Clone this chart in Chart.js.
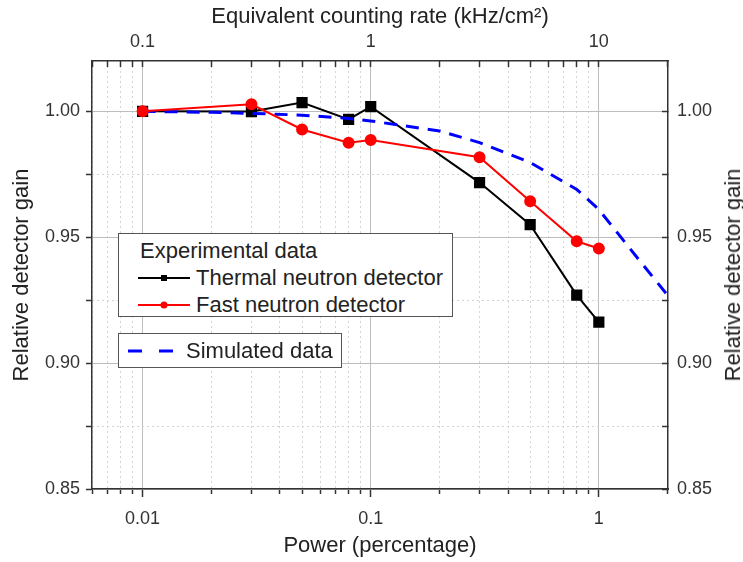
<!DOCTYPE html>
<html>
<head>
<meta charset="utf-8">
<script src="https://cdn.jsdelivr.net/npm/chart.js@4.4.1/dist/chart.umd.min.js"></script>
<style>
    body { margin: 0; background: #fff; }
    #wrap { position: relative; width: 743px; height: 562px; font-family: "Liberation Sans", Arial, sans-serif; color: #222; }
    .legend-box { position: absolute; background: #fff; border: 1px solid #555; box-sizing: border-box; }
    .row { position: absolute; font-size: 22px; line-height: 22px; white-space: nowrap; }
    .row svg { position: absolute; }
    #rightTitle { position: absolute; left: 733px; top: 275px; font-size: 22px; line-height: 22px; white-space: nowrap;
        transform: translate(-50%, -50%) rotate(-90deg); }
</style>
</head>
<body>
<div id="wrap">
    <canvas id="gainChart"></canvas>

    <div class="legend-box" style="left:118px; top:233px; width:335px; height:84px;">
        <div class="row" style="left:21px; top:6px;">Experimental data</div>
        <div class="row" style="left:19px; top:33px;">
            <svg width="54" height="22" style="left:0; top:0;">
                <line x1="0" y1="11" x2="52" y2="11" stroke="#000" stroke-width="2"/>
                <rect x="23" y="8" width="6" height="6" fill="#000"/>
            </svg>
            <span style="position:absolute; left:58px; top:0;">Thermal neutron detector</span>
        </div>
        <div class="row" style="left:19px; top:60px;">
            <svg width="54" height="22" style="left:0; top:0;">
                <line x1="0" y1="11" x2="52" y2="11" stroke="#ff0000" stroke-width="2"/>
                <circle cx="26" cy="11" r="3.5" fill="#ff0000"/>
            </svg>
            <span style="position:absolute; left:58px; top:0;">Fast neutron detector</span>
        </div>
    </div>

    <div class="legend-box" style="left:118px; top:333px; width:224px; height:35px;">
        <div class="row" style="left:9px; top:6px;">
            <svg width="50" height="22" style="left:0; top:0;">
                <line x1="0" y1="11" x2="46" y2="11" stroke="#0000ff" stroke-width="3" stroke-dasharray="14,17"/>
            </svg>
            <span style="position:absolute; left:58px; top:0;">Simulated data</span>
        </div>
    </div>

    <div id="rightTitle">Relative detector gain</div>
</div>

<script>
// axis ranges
const powerMin = 0.006, powerMax = 2.01;
const rateMin = 0.06, rateMax = 20.1;
const gainMin = 0.85, gainMax = 1.02;

// tick positions and labels
const powerMajor = [0.01, 0.1, 1];
const powerLabels = ['0.01', '0.1', '1'];
const powerMinor = [0.006, 0.007, 0.008, 0.009,
    0.02, 0.03, 0.04, 0.05, 0.06, 0.07, 0.08, 0.09,
    0.2, 0.3, 0.4, 0.5, 0.6, 0.7, 0.8, 0.9, 2];
const rateMajor = [0.1, 1, 10];
const rateLabels = ['0.1', '1', '10'];
const rateMinor = [0.06, 0.07, 0.08, 0.09,
    0.2, 0.3, 0.4, 0.5, 0.6, 0.7, 0.8, 0.9,
    2, 3, 4, 5, 6, 7, 8, 9, 20];
const gainMajor = [0.85, 0.90, 0.95, 1.00];
const gainMinor = [0.875, 0.925, 0.975];

// series
const thermalPower = [0.01, 0.03, 0.05, 0.08, 0.1, 0.3, 0.5, 0.8, 1];
const thermalGain = [1.000, 0.9999, 1.0035, 0.9968, 1.0019, 0.9717, 0.955, 0.927, 0.9163];
const fastPower = [0.01, 0.03, 0.05, 0.08, 0.1, 0.3, 0.5, 0.8, 1];
const fastGain = [1.000, 1.0028, 0.9928, 0.9875, 0.9886, 0.9818, 0.9643, 0.9484, 0.9455];
const simPower = [0.01, 0.02, 0.03, 0.05, 0.08, 0.1, 0.2, 0.3, 0.5, 0.8, 1, 1.5, 2];
const simGain = [1.000, 0.9996, 0.9992, 0.9985, 0.9972, 0.9962, 0.9922, 0.9876, 0.9797, 0.969, 0.961, 0.941, 0.927];

const toPoints = (xs, ys) => xs.map((x, i) => ({ x: x, y: ys[i] }));

const fontFamily = '"Liberation Sans", Arial, sans-serif';
const tickFont = { family: fontFamily, size: 18 };
const titleFont = { family: fontFamily, size: 22, lineHeight: 1 };
const axisColor = '#333';
const majorGrid = '#bdbdbd';
const minorGrid = '#d4d4d4';

const setTicks = (values) => (scale) => { scale.ticks = values.map(v => ({ value: v })); };
const fixWidth = (w) => (scale) => { scale.width = w; };
const fixHeight = (h) => (scale) => { scale.height = h; };
const labelFrom = (values, labels) => (value) => {
    const i = values.indexOf(value);
    return i >= 0 ? labels[i] : '';
};

function initChart() {
    const ctx = document.getElementById('gainChart').getContext('2d');

    const data = {
        datasets: [{
            label: 'Fast neutron detector',
            data: toPoints(fastPower, fastGain),
            borderColor: '#ff0000',
            backgroundColor: '#ff0000',
            borderWidth: 2,
            pointStyle: 'circle',
            pointRadius: 5,
            order: 0
        }, {
            label: 'Simulated data',
            data: toPoints(simPower, simGain),
            borderColor: '#0000ff',
            borderWidth: 3,
            borderDash: [13, 9],
            pointRadius: 0,
            order: 1
        }, {
            label: 'Thermal neutron detector',
            data: toPoints(thermalPower, thermalGain),
            borderColor: '#000',
            backgroundColor: '#000',
            borderWidth: 2,
            pointStyle: 'rect',
            pointRadius: 6.5,
            order: 2
        }]
    };

    const config = {
        type: 'line',
        data: data,
        options: {
            responsive: true,
            maintainAspectRatio: false,
            animation: false,
            layout: { padding: 0 },
            elements: { line: { tension: 0 } },
            scales: {
                x: {
                    type: 'logarithmic',
                    position: 'bottom',
                    weight: 1,
                    min: powerMin,
                    max: powerMax,
                    afterBuildTicks: setTicks(powerMajor),
                    afterFit: fixHeight(73),
                    grid: { color: majorGrid, lineWidth: 1, tickLength: 8, tickColor: axisColor, tickWidth: 1.5 },
                    border: { color: axisColor, width: 1.5 },
                    ticks: {
                        font: tickFont, color: '#333', padding: 11, autoSkip: false, maxRotation: 0,
                        callback: labelFrom(powerMajor, powerLabels)
                    },
                    title: {
                        display: true, text: 'Power (percentage)', font: titleFont, color: '#222',
                        padding: { top: 0, bottom: 5 }
                    }
                },
                xMinor: {
                    type: 'logarithmic',
                    position: 'bottom',
                    weight: 0,
                    min: powerMin,
                    max: powerMax,
                    afterBuildTicks: setTicks(powerMinor),
                    afterFit: fixHeight(0),
                    grid: { color: minorGrid, lineWidth: 1, tickLength: 5, tickColor: axisColor, tickWidth: 1.5 },
                    border: { display: false, dash: [2, 3] },
                    ticks: { display: false, autoSkip: false }
                },
                xTop: {
                    type: 'logarithmic',
                    position: 'top',
                    min: rateMin,
                    max: rateMax,
                    afterBuildTicks: setTicks(rateMajor.concat(rateMinor)),
                    afterFit: fixHeight(61),
                    grid: { drawOnChartArea: false, tickLength: -6, tickColor: axisColor, tickWidth: 1.5 },
                    border: { color: axisColor, width: 1.5 },
                    ticks: {
                        font: tickFont, color: '#333', padding: 14, autoSkip: false, maxRotation: 0,
                        callback: labelFrom(rateMajor, rateLabels)
                    },
                    title: {
                        display: true, text: 'Equivalent counting rate (kHz/cm²)', font: titleFont, color: '#222',
                        padding: { top: 6, bottom: 0 }
                    }
                },
                y: {
                    type: 'linear',
                    position: 'left',
                    weight: 1,
                    min: gainMin,
                    max: gainMax,
                    afterBuildTicks: setTicks(gainMajor),
                    afterFit: fixWidth(92),
                    grid: { color: majorGrid, lineWidth: 1, tickLength: 6, tickColor: axisColor, tickWidth: 1.5 },
                    border: { color: axisColor, width: 1.5 },
                    ticks: {
                        font: tickFont, color: '#333', padding: 6,
                        callback: (v) => v.toFixed(2)
                    },
                    title: {
                        display: true, text: 'Relative detector gain', font: titleFont, color: '#222',
                        padding: { top: 11, bottom: 0 }
                    }
                },
                yMinor: {
                    type: 'linear',
                    position: 'left',
                    weight: 0,
                    min: gainMin,
                    max: gainMax,
                    afterBuildTicks: setTicks(gainMinor),
                    afterFit: fixWidth(0),
                    grid: { color: minorGrid, lineWidth: 1, tickLength: 6, tickColor: axisColor, tickWidth: 1.5 },
                    border: { display: false, dash: [2, 3] },
                    ticks: { display: false }
                },
                yRight: {
                    type: 'linear',
                    position: 'right',
                    min: gainMin,
                    max: gainMax,
                    afterBuildTicks: setTicks(gainMajor.concat(gainMinor)),
                    afterFit: fixWidth(75),
                    grid: { drawOnChartArea: false, tickLength: -6, tickColor: axisColor, tickWidth: 1.5 },
                    border: { color: axisColor, width: 1.5 },
                    ticks: {
                        font: tickFont, color: '#333', padding: 15,
                        callback: (v) => gainMajor.includes(v) ? v.toFixed(2) : ''
                    }
                }
            },
            plugins: {
                legend: { display: false },
                tooltip: { enabled: false }
            }
        }
    };

    new Chart(ctx, config);
}

document.addEventListener('DOMContentLoaded', initChart);
</script>
</body>
</html>
